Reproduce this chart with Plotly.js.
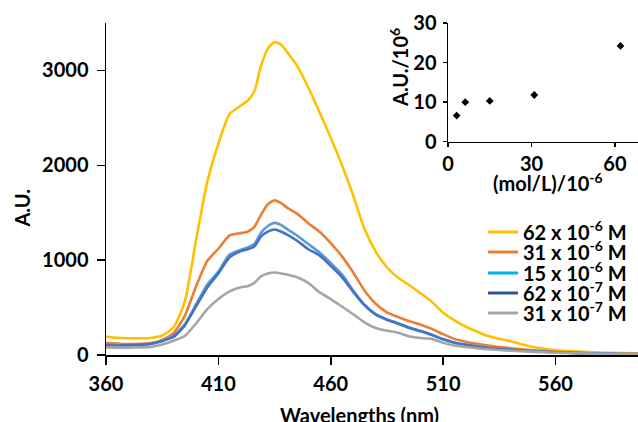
<!DOCTYPE html>
<html>
<head>
<meta charset="utf-8">
<script src="https://cdn.plot.ly/plotly-3.0.1.min.js"></script>
<style>html,body{margin:0;padding:0;background:#fff;}#chart{width:638px;height:422px;}</style>
</head>
<body>
<div id="chart"></div>
<script>
// ---- data ----
const wavelengths = [360,365,370,375,380,385,390,395,400,405,410,415,420,423,426,429,432,435,438,441,445,450,455,460,465,470,475,480,485,490,495,500,505,510,515,520,530,540,550,560,570,580,590,597];
const au62e6 = [192,182,176,176,180,205,290,560,1200,1820,2230,2540,2630,2680,2780,3050,3230,3300,3270,3180,3050,2820,2560,2290,2000,1680,1330,1090,925,815,735,650,560,445,365,300,200,145,85,52,36,26,20,18];
const au31e6 = [125,120,115,118,125,160,230,410,720,990,1120,1260,1285,1300,1350,1480,1590,1630,1600,1545,1490,1390,1300,1180,1040,870,680,540,450,400,355,320,275,220,170,140,100,72,50,33,22,15,11,10];
const au15e6 = [100,98,100,105,115,150,200,320,530,740,880,1060,1110,1135,1170,1290,1360,1393,1370,1320,1260,1170,1080,970,850,680,530,430,375,335,290,255,215,168,132,110,76,56,41,29,20,14,10,9];
const au62e7 = [100,100,105,108,118,148,190,310,510,710,860,1030,1095,1115,1145,1250,1300,1323,1300,1265,1205,1115,1050,940,820,665,525,425,372,330,285,250,210,165,130,108,74,54,40,28,20,14,10,9];
const au31e7 = [80,78,78,80,85,110,150,200,330,480,590,670,715,725,760,830,860,870,860,845,820,760,660,590,510,430,345,285,255,235,195,180,170,130,100,85,60,45,33,24,17,12,9,8];
const seriesLabels = ['62 x 10<sup>-6</sup> M','31 x 10<sup>-6</sup> M','15 x 10<sup>-6</sup> M','62 x 10<sup>-7</sup> M','31 x 10<sup>-7</sup> M'];
const curveColors = ['#FFC000','#ED7D31','#5B9BD5','#4472C4','#A5A5A5'];
const legendColors = ['#FFC000','#ED7D31','#00B0F0','#2F5597','#A5A5A5'];
const concentrations = [3.1, 6.2, 15, 31, 62];
const insetAU = [6.6, 10.0, 10.3, 11.8, 24.2];
const mainXTicks = [360,410,460,510,560];
const mainYTicks = [0,1000,2000,3000];
const insetXTicks = [0,30,60];
const insetYTicks = [0,10,20,30];

const allSeries = [au62e6, au31e6, au15e6, au62e7, au31e7];
const traces = [];
allSeries.forEach((s, i) => {
  traces.push({
    x: wavelengths, y: s, type: 'scatter', mode: 'lines',
    line: {color: curveColors[i], width: 2.6, shape: 'spline', smoothing: 0.6},
    showlegend: false, xaxis: 'x', yaxis: 'y'
  });
});
// legend entries
const legendNames = ['legend','legend2','legend3','legend4','legend5'];
allSeries.forEach((s, i) => {
  traces.push({
    x: [null], y: [null], type: 'scatter', mode: 'lines',
    name: seriesLabels[i], line: {color: legendColors[i], width: 3},
    showlegend: true, legend: legendNames[i], xaxis: 'x', yaxis: 'y'
  });
});
traces.push({
  x: concentrations, y: insetAU, type: 'scatter', mode: 'markers',
  marker: {symbol: 'diamond', size: 6, color: '#000'},
  showlegend: false, xaxis: 'x2', yaxis: 'y2'
});

const legendY = [0.3705, 0.3102, 0.2470, 0.1867, 0.1265];
const axisCommon = {
  showline: true, linecolor: '#000', linewidth: 1.5, ticks: 'outside', tickcolor: '#000',
  tickwidth: 1.5, showgrid: false, zeroline: false, fixedrange: true
};
const layout = {
  width: 638, height: 422,
  margin: {l: 106, r: 0, t: 23, b: 67, pad: 0},
  paper_bgcolor: '#fff', plot_bgcolor: 'rgba(0,0,0,0)',
  font: {family: 'Lato, "Open Sans", sans-serif', size: 20, color: '#000', weight: 'bold'},
  xaxis: Object.assign({}, axisCommon, {range: [360, 596.7], tickvals: mainXTicks, ticklen: 8, domain: [0, 1], anchor: 'y', ticklabelstandoff: 2}),
  yaxis: Object.assign({}, axisCommon, {range: [0, 3500], tickvals: mainYTicks, ticklen: 8, domain: [0, 1], anchor: 'x', ticklabelstandoff: 4}),
  xaxis2: Object.assign({}, axisCommon, {range: [0, 68.3], tickvals: insetXTicks, ticklen: 4, domain: [0.6429, 1], anchor: 'y2'}),
  yaxis2: Object.assign({}, axisCommon, {range: [0, 30], tickvals: insetYTicks, ticklen: 4, domain: [0.6425, 1], anchor: 'x2', ticklabelstandoff: 2}),
  annotations: [
    {text: 'A.U.', xref: 'paper', yref: 'paper', x: -0.1585, y: 0.443, textangle: -90, showarrow: false, xanchor: 'center', yanchor: 'middle'},
    {text: 'Wavelengths (nm)', xref: 'paper', yref: 'paper', x: 0.4765, y: -0.181, showarrow: false, xanchor: 'center', yanchor: 'middle'},
    {text: 'A.U./10<sup>6</sup>', xref: 'paper', yref: 'paper', x: 0.5508, y: 0.8645, textangle: -90, showarrow: false, xanchor: 'center', yanchor: 'middle'},
    {text: '(mol/L)/10<sup>-6</sup>', xref: 'paper', yref: 'paper', x: 0.831, y: 0.522, showarrow: false, xanchor: 'center', yanchor: 'middle'}
  ],
  hovermode: false
};
legendNames.forEach((ln, i) => {
  layout[ln] = {x: 0.7086, y: legendY[i], xanchor: 'left', yanchor: 'middle', bgcolor: 'rgba(0,0,0,0)', borderwidth: 0,
    font: {family: 'Lato, "Open Sans", sans-serif', size: 20, color: '#000', weight: 'bold'}};
});
Plotly.newPlot('chart', traces, layout, {staticPlot: true, displayModeBar: false});
</script>
</body>
</html>
